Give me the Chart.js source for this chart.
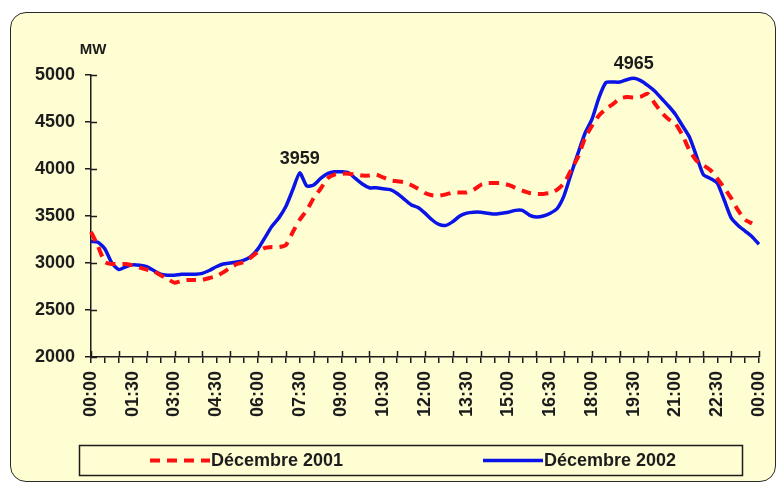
<!DOCTYPE html>
<html>
<head>
<meta charset="utf-8">
<script src="https://cdn.jsdelivr.net/npm/chart.js@4/dist/chart.umd.min.js"></script>
<style>
    html, body { margin: 0; padding: 0; background: #fff; }
    #wrap { position: relative; width: 779px; height: 485px; }
    #frame {
        position: absolute; left: 10px; top: 12px; width: 764px; height: 468px;
        background: #FFFDD2; border: 1.5px solid #2a2a2a; border-radius: 16px;
    }
    #chart { position: absolute; left: 0; top: 0; }
</style>
</head>
<body>
<div id="wrap">
    <div id="frame"></div>
    <canvas id="chart" width="779" height="485"></canvas>
</div>
<script>
// quarter-hour steps from 00:00 to 00:00 the next day
const times = []
for (let i = 0; i <= 96; i++) {
    const h = Math.floor(i / 4) % 24
    const m = (i % 4) * 15
    times.push(String(h).padStart(2, '0') + ':' + String(m).padStart(2, '0'))
}

// load in MW
const dec2001 = [
    3330, 3180, 3010, 2990, 2990, 2990, 2975, 2950, 2930, 2910,
    2870, 2830, 2790, 2810, 2820, 2820, 2820, 2840, 2860, 2900,
    2950, 2990, 3010, 3060, 3120, 3160, 3170, 3170, 3190, 3330,
    3460, 3560, 3690, 3790, 3900, 3940, 3950, 3950, 3940, 3930,
    3930, 3940, 3910, 3880, 3870, 3860, 3830, 3790, 3745, 3720,
    3715, 3730, 3750, 3750, 3750, 3780, 3830, 3850, 3850, 3850,
    3830, 3800, 3770, 3745, 3735, 3735, 3745, 3780, 3850, 3990,
    4130, 4330, 4460, 4570, 4640, 4690, 4750, 4765, 4760, 4770,
    4800, 4700, 4600, 4530, 4480, 4360, 4200, 4090, 4040, 3990,
    3900, 3800, 3690, 3560, 3460, 3420, null
]

const dec2002 = [
    3230, 3220, 3150, 3000, 2930, 2960, 2980, 2975, 2960, 2920,
    2880, 2870, 2870, 2880, 2880, 2880, 2890, 2920, 2960, 2990,
    3000, 3010, 3030, 3070, 3150, 3270, 3390, 3480, 3600, 3780,
    3959, 3820, 3830, 3900, 3950, 3970, 3970, 3960, 3900, 3840,
    3800, 3800, 3790, 3780, 3740, 3680, 3620, 3590, 3530, 3460,
    3410, 3400, 3440, 3500, 3530, 3540, 3540, 3530, 3520, 3530,
    3540, 3560, 3560, 3510, 3490, 3500, 3530, 3580, 3720, 3950,
    4170, 4380, 4530, 4760, 4920, 4925, 4925, 4950, 4965, 4940,
    4890, 4830, 4750, 4670, 4580, 4460, 4340, 4140, 3940, 3900,
    3850, 3670, 3480, 3400, 3340, 3280, 3200
]

// the two 2002 peaks that get their value written above them
const peakIndex = [30, 78]

const yTicks = [2000, 2500, 3000, 3500, 4000, 4500, 5000]

const font = '"Liberation Sans", Arial, sans-serif'
const ink = '#1c1c1c'

// short inner tick marks, the unit, the peak values and the framed legend
const extras = {
    id: 'extras',
    afterDatasetsDraw(chart) {
        const ctx = chart.ctx
        const x = chart.scales.x
        const y = chart.scales.y
        const area = chart.chartArea
        ctx.save()
        ctx.strokeStyle = ink
        ctx.lineWidth = 1.5
        ctx.beginPath()
        x.ticks.forEach((t, i) => {
            if (i % 2) return
            const px = Math.round(x.getPixelForTick(i)) + 0.5
            ctx.moveTo(px, area.bottom)
            ctx.lineTo(px, area.bottom - 6)
        })
        y.ticks.forEach((t, i) => {
            const py = Math.round(y.getPixelForTick(i)) + 0.5
            ctx.moveTo(area.left, py)
            ctx.lineTo(area.left + 6, py)
        })
        ctx.stroke()

        ctx.fillStyle = ink
        ctx.textAlign = 'center'
        ctx.textBaseline = 'middle'
        ctx.font = 'bold 18px ' + font
        peakIndex.forEach(i => {
            const px = x.getPixelForValue(i)
            const py = y.getPixelForValue(dec2002[i])
            ctx.fillText(String(dec2002[i]), px, py - 14)
        })

        ctx.font = 'bold 15px ' + font
        ctx.fillText('MW', area.left + 2, area.top - 25)

        // legend: box under the axis labels, one line sample per dataset
        const boxTop = area.bottom + 88.5
        const boxLeft = area.left - 11.5
        ctx.lineWidth = 1.5
        ctx.strokeRect(boxLeft, boxTop, 663, 30)
        const mid = boxTop + 15
        ctx.textAlign = 'left'
        ctx.font = 'bold 18px ' + font
        chart.data.datasets.forEach((ds, k) => {
            const sx = area.left + 59 + k * 333
            ctx.strokeStyle = ds.borderColor
            ctx.lineWidth = ds.borderWidth
            ctx.setLineDash(ds.borderDash || [])
            ctx.beginPath()
            ctx.moveTo(sx, mid)
            ctx.lineTo(sx + 60, mid)
            ctx.stroke()
            ctx.setLineDash([])
            ctx.fillText(ds.label, sx + 61, mid + 1)
        })
        ctx.restore()
    }
}

new Chart('chart', {
    type: 'line',
    data: {
        labels: times,
        datasets: [{
            label: 'Décembre 2001',
            data: dec2001,
            borderColor: '#ff1010',
            backgroundColor: '#ff1010',
            borderWidth: 4,
            borderDash: [10, 7],
            pointRadius: 0,
            tension: 0.2
        }, {
            label: 'Décembre 2002',
            data: dec2002,
            borderColor: '#0a14e6',
            backgroundColor: '#0a14e6',
            borderWidth: 3.5,
            pointRadius: 0,
            tension: 0.2
        }]
    },
    options: {
        responsive: false,
        animation: false,
        layout: { padding: { left: 0, right: 20, top: 75, bottom: 58 } },
        plugins: {
            tooltip: { enabled: false },
            legend: { display: false }
        },
        scales: {
            x: {
                afterFit: s => { s.height = 70; s.paddingRight = 0 },
                grid: { drawOnChartArea: false, tickLength: 6, color: ink, lineWidth: 1.5 },
                border: { color: ink, width: 1.5 },
                ticks: {
                    autoSkip: false,
                    minRotation: 90,
                    maxRotation: 90,
                    padding: 8,
                    color: ink,
                    font: { family: font, size: 18, weight: 'bold' },
                    callback: (v, i) => i % 2 ? null : (i % 6 === 0 ? times[i] : '')
                }
            },
            y: {
                min: 2000,
                max: 5000,
                afterFit: s => { s.width = 91 },
                afterBuildTicks: s => { s.ticks = yTicks.map(v => ({ value: v })) },
                grid: { drawOnChartArea: false, tickLength: 6, color: ink, lineWidth: 1.5 },
                border: { color: ink, width: 1.5 },
                ticks: {
                    padding: 10,
                    color: ink,
                    font: { family: font, size: 18, weight: 'bold' },
                    callback: v => String(v)
                }
            }
        }
    },
    plugins: [extras]
})
</script>
</body>
</html>
